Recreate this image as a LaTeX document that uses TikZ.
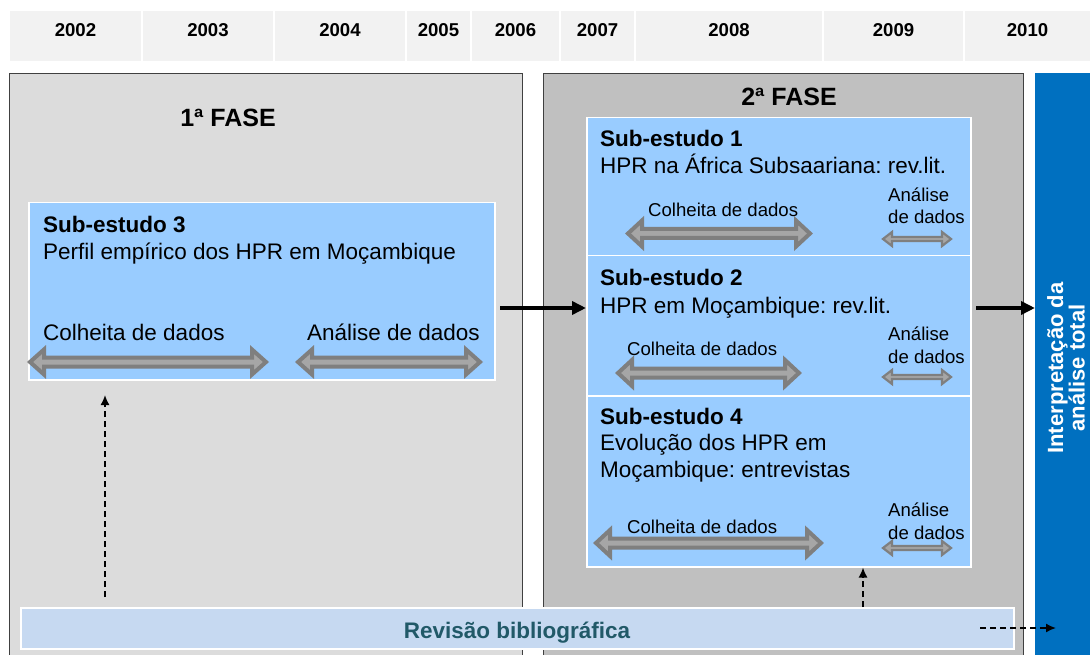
\documentclass[tikz,border=0pt]{standalone}
\usepackage{fontspec}
\setmainfont{Liberation Sans}
\usetikzlibrary{arrows.meta}
\frenchspacing
\definecolor{hdr}{HTML}{F2F2F2}
\definecolor{faseA}{HTML}{DCDCDC}
\definecolor{faseB}{HTML}{C0C0C0}
\definecolor{faseline}{HTML}{404040}
\definecolor{subblue}{HTML}{99CCFF}
\definecolor{barblue}{HTML}{0070C0}
\definecolor{revfill}{HTML}{C6D9F1}
\definecolor{revtext}{HTML}{215968}
\definecolor{arrdark}{HTML}{7F7F7F}
\definecolor{arrlight}{HTML}{A6A6A6}
\newcommand{\dblarr}[7]{% x1 x2 y shafthalf headhalf headlen linewidth
  \path[fill=arrlight,draw=arrdark,line width=#7,line join=miter,miter limit=10]
    (#1,#3) -- (#1+#6,#3-#5) -- (#1+#6,#3-#4) -- (#2-#6,#3-#4) -- (#2-#6,#3-#5)
    -- (#2,#3) -- (#2-#6,#3+#5) -- (#2-#6,#3+#4) -- (#1+#6,#3+#4) -- (#1+#6,#3+#5) -- cycle;}
\begin{document}
\begin{tikzpicture}[x=1pt,y=-1pt,
  yr/.style={font=\fontsize{18.6}{20}\selectfont\bfseries, anchor=base, inner sep=0},
  fasebox/.style={draw=faseline, line width=1.2, anchor=north west, inner sep=0},
  subbox/.style={draw=white, fill=subblue, line width=1.5, anchor=north west, inner sep=0},
  title/.style={font=\fontsize{22.5}{27}\selectfont\bfseries, anchor=base west, inner sep=0},
  body/.style={font=\fontsize{22.5}{27}\selectfont, anchor=base west, inner sep=0, align=left},
  small/.style={font=\fontsize{18.6}{22.5}\selectfont, anchor=base west, inner sep=0, align=left},
  fasetxt/.style={font=\fontsize{25}{28}\selectfont\bfseries, anchor=base, inner sep=0},
  blk/.style={line width=4, -{Triangle[length=14,width=13]}},
  dsh/.style={line width=1.6, dash pattern=on 6 off 4, -{Latex[length=10,width=9]}}
]
\useasboundingbox (0,0) rectangle (1090,655);
% header
\foreach \a/\b/\t in {10/141/2002,143/273/2003,275/405/2004,407/470/2005,472/559/2006,561/634/2007,636/822/2008,824/963/2009,965/1090/2010}{
  \fill[hdr] (\a,11) rectangle (\b,61);
  \node[yr] (y\t) at ({(\a+\b)/2},36.7) {\t};
}
% phases
\node[fasebox, fill=faseA, minimum width=513, minimum height=600] (fase1) at (9,73) {};
\node[fasebox, fill=faseB, minimum width=480, minimum height=600] (fase2) at (543,73) {};
\node[fill=barblue, anchor=north west, inner sep=0, minimum width=70, minimum height=600] (interpbar) at (1035,73) {};
\node[font=\fontsize{22}{21.5}\selectfont\bfseries, text=white, rotate=90, align=center, inner sep=0] (interp) at (1066,368) {Interpretação da\\análise total};
\node[fasetxt] (f1t) at (228,127) {1ª FASE};
\node[fasetxt] (f2t) at (789,106) {2ª FASE};
% sub-estudo 3
\node[subbox, minimum width=466, minimum height=177] (sub3) at (28,202) {};
\node[title] (s3t) at (43,233) {Sub-estudo 3};
\node[body] (s3b) at (43,260) {Perfil empírico dos HPR em Moçambique};
\node[body] (s3c) at (43,340) {Colheita de dados};
\node[body, anchor=base east] (s3a) at (480,340) {Análise de dados};
\dblarr{30}{266}{362}{4.5}{12.5}{14}{4}
\dblarr{298}{480}{362}{4.5}{12.5}{14}{4}
% sub-estudo 1
\node[subbox, minimum width=384, minimum height=138] (sub1) at (586,117) {};
\node[title] (s1t) at (600,147) {Sub-estudo 1};
\node[body] (s1b) at (600,174) {HPR na África Subsaariana: rev.lit.};
\node[small] (s1c) at (648,217) {Colheita de dados};
\node[small] (s1a) at (888,224) {Análise\\de dados};
\dblarr{628}{810}{233.5}{4.5}{13}{14}{4}
\dblarr{883}{951}{239}{2}{7}{9}{2.2}
% sub-estudo 2
\node[subbox, minimum width=384, minimum height=140] (sub2) at (586,255) {};
\node[title] (s2t) at (600,285) {Sub-estudo 2};
\node[body] (s2b) at (600,313) {HPR em Moçambique: rev.lit.};
\node[small] (s2c) at (627,355) {Colheita de dados};
\node[small] (s2a) at (888,363) {Análise\\de dados};
\dblarr{618}{799}{373}{4.5}{13}{14}{4}
\dblarr{883}{951}{377}{2}{7}{9}{2.2}
% sub-estudo 4
\node[subbox, minimum width=384, minimum height=171] (sub4) at (586,395) {};
\node[title] (s4t) at (600,424) {Sub-estudo 4};
\node[body] (s4b) at (600,477) {Evolução dos HPR em\\Moçambique: entrevistas};
\node[small] (s4c) at (627,533) {Colheita de dados};
\node[small] (s4a) at (888,539) {Análise\\de dados};
\dblarr{596}{821}{543}{4.5}{13}{14}{4}
\dblarr{883}{951}{548}{2}{7}{9}{2.2}
% revisão
\node[draw=white, fill=revfill, line width=1.5, anchor=north west, inner sep=0, minimum width=993, minimum height=41] (rev) at (20,607) {};
\node[font=\fontsize{22.5}{27}\selectfont\bfseries, text=revtext, anchor=base, inner sep=0] (revt) at (517,638) {Revisão bibliográfica};
% connectors
\coordinate (a1) at (500,308);
\coordinate (a2) at (976,308);
\draw[blk] (a1) -- (a1 -| sub2.west);
\draw[blk] (a2) -- (a2 -| interpbar.west);
\coordinate (d1s) at (105,597);
\coordinate (d1e) at (105,395);
\draw[dsh] (d1s) -- (d1e);
\coordinate (d2) at (863,607);
\draw[dsh] (d2) -- (d2 |- sub4.south);
\coordinate (d3s) at (980,628);
\coordinate (d3e) at (1056,628);
\draw[dsh] (d3s) -- (d3e);
\end{tikzpicture}
\end{document}
